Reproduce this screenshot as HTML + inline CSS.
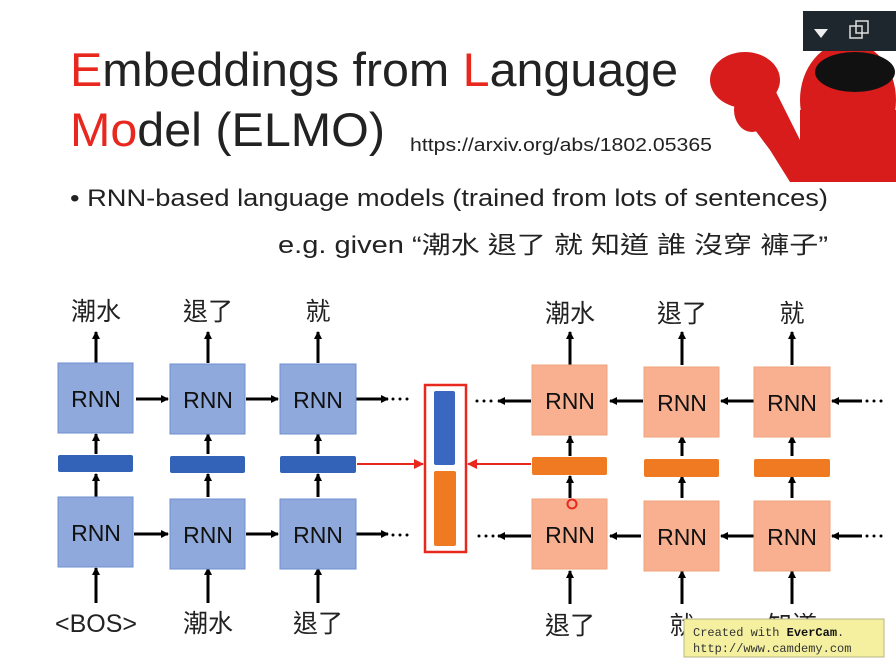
<!DOCTYPE html>
<html><head><meta charset="utf-8"><style>
body{margin:0;background:#fff;}
svg{display:block}
</style></head><body>
<svg width="896" height="672" viewBox="0 0 896 672" xmlns="http://www.w3.org/2000/svg" font-family="'Liberation Sans','Noto Sans CJK TC',sans-serif">
<defs>
<marker id="a" markerWidth="8" markerHeight="8" refX="7" refY="4" orient="auto" markerUnits="userSpaceOnUse"><path d="M0,0 L8,4 L0,8 z" fill="#000"/></marker>
<marker id="r" markerWidth="10" markerHeight="10" refX="9" refY="5" orient="auto" markerUnits="userSpaceOnUse"><path d="M0,0 L10,5 L0,10 z" fill="#e8281e"/></marker>
</defs>
<rect width="896" height="672" fill="#fff"/>
<!-- Elmo -->
<g fill="#d81c1c">
<ellipse cx="848" cy="100" rx="48" ry="58"/>
<rect x="800" y="110" width="96" height="72"/>
<ellipse cx="745" cy="80" rx="35" ry="28"/>
<path d="M720,85 L765,70 L800,140 L810,182 L790,182 L770,150 L740,110 z"/>
<ellipse cx="752" cy="110" rx="18" ry="22"/>
</g>
<ellipse cx="855" cy="72" rx="40" ry="20" fill="#111"/>
<rect x="803" y="11" width="93" height="40" fill="#1e262e"/>
<path d="M814,29 L828,29 L821,38 z" fill="#eee"/>
<rect x="850" y="26" width="12" height="12" fill="none" stroke="#ddd" stroke-width="1.5"/>
<rect x="856" y="21" width="12" height="12" fill="none" stroke="#ddd" stroke-width="1.5"/>
<!-- Title -->
<text x="70" y="86" font-size="47" fill="#222" textLength="608" lengthAdjust="spacingAndGlyphs"><tspan fill="#e8281e">E</tspan>mbeddings from <tspan fill="#e8281e">L</tspan>anguage</text>
<text x="70" y="146" font-size="47" fill="#222" textLength="315" lengthAdjust="spacingAndGlyphs"><tspan fill="#e8281e">Mo</tspan>del (ELMO)</text>
<text x="410" y="151" font-size="18" fill="#222" textLength="302" lengthAdjust="spacingAndGlyphs">https://arxiv.org/abs/1802.05365</text>
<text x="70" y="206" font-size="24" fill="#222" textLength="758" lengthAdjust="spacingAndGlyphs">• RNN-based language models (trained from lots of sentences)</text>
<text x="278" y="253" font-size="24" fill="#222" textLength="550" lengthAdjust="spacingAndGlyphs">e.g. given “潮水 退了 就 知道 誰 沒穿 褲子”</text>
<g font-size="25" fill="#222" text-anchor="middle">
<text x="96" y="320">潮水</text><text x="208" y="320">退了</text><text x="318" y="320">就</text>
<text x="96" y="632">&lt;BOS&gt;</text><text x="208" y="632">潮水</text><text x="318" y="632">退了</text>
<text x="570" y="322">潮水</text><text x="682" y="322">退了</text><text x="792" y="322">就</text>
<text x="570" y="634">退了</text><text x="682" y="634">就</text><text x="792" y="634">知道</text>
</g>
<g stroke="#000" stroke-width="3" marker-end="url(#a)">
<line x1="96" y1="363" x2="96" y2="332"/><line x1="208" y1="363" x2="208" y2="332"/><line x1="318" y1="363" x2="318" y2="332"/>
<line x1="96" y1="454" x2="96" y2="434"/><line x1="208" y1="454" x2="208" y2="434"/><line x1="318" y1="454" x2="318" y2="434"/>
<line x1="96" y1="497" x2="96" y2="474"/><line x1="208" y1="497" x2="208" y2="474"/><line x1="318" y1="497" x2="318" y2="474"/>
<line x1="96" y1="603" x2="96" y2="568"/><line x1="208" y1="603" x2="208" y2="568"/><line x1="318" y1="603" x2="318" y2="568"/>
<line x1="136" y1="399" x2="168" y2="399"/><line x1="246" y1="399" x2="278" y2="399"/><line x1="356" y1="399" x2="388" y2="399"/>
<line x1="134" y1="534" x2="168" y2="534"/><line x1="246" y1="534" x2="278" y2="534"/><line x1="356" y1="534" x2="388" y2="534"/>
<line x1="570" y1="365" x2="570" y2="332"/><line x1="682" y1="365" x2="682" y2="332"/><line x1="792" y1="365" x2="792" y2="332"/>
<line x1="570" y1="456" x2="570" y2="436"/><line x1="682" y1="456" x2="682" y2="436"/><line x1="792" y1="456" x2="792" y2="436"/>
<line x1="570" y1="498" x2="570" y2="476"/><line x1="682" y1="498" x2="682" y2="476"/><line x1="792" y1="498" x2="792" y2="476"/>
<line x1="570" y1="604" x2="570" y2="571"/><line x1="682" y1="604" x2="682" y2="571"/><line x1="792" y1="604" x2="792" y2="571"/>
<line x1="531" y1="401" x2="498" y2="401"/><line x1="643" y1="401" x2="610" y2="401"/><line x1="754" y1="401" x2="721" y2="401"/><line x1="862" y1="401" x2="832" y2="401"/>
<line x1="531" y1="536" x2="498" y2="536"/><line x1="641" y1="536" x2="610" y2="536"/><line x1="754" y1="536" x2="721" y2="536"/><line x1="862" y1="536" x2="832" y2="536"/>
</g>
<g fill="#000">
<circle cx="393" cy="399" r="1.5"/><circle cx="400" cy="399" r="1.5"/><circle cx="407" cy="399" r="1.5"/>
<circle cx="393" cy="535" r="1.5"/><circle cx="400" cy="535" r="1.5"/><circle cx="407" cy="535" r="1.5"/>
<circle cx="477" cy="401" r="1.5"/><circle cx="484" cy="401" r="1.5"/><circle cx="491" cy="401" r="1.5"/>
<circle cx="479" cy="536" r="1.5"/><circle cx="486" cy="536" r="1.5"/><circle cx="493" cy="536" r="1.5"/>
<circle cx="867" cy="401" r="1.5"/><circle cx="874" cy="401" r="1.5"/><circle cx="881" cy="401" r="1.5"/>
<circle cx="867" cy="536" r="1.5"/><circle cx="874" cy="536" r="1.5"/><circle cx="881" cy="536" r="1.5"/>
</g>
<g fill="#8fa9dc" stroke="#6f8fcf" stroke-width="1">
<rect x="58" y="363" width="75" height="70"/><rect x="170" y="364" width="75" height="70"/><rect x="280" y="364" width="76" height="70"/>
<rect x="58" y="497" width="75" height="70"/><rect x="170" y="499" width="75" height="70"/><rect x="280" y="499" width="76" height="70"/>
</g>
<g fill="#3263b8">
<rect x="58" y="455" width="75" height="17" rx="2"/><rect x="170" y="456" width="75" height="17" rx="2"/><rect x="280" y="456" width="76" height="17" rx="2"/>
</g>
<g fill="#f9b090" stroke="#f0a27e" stroke-width="1">
<rect x="532" y="365" width="75" height="70"/><rect x="644" y="367" width="75" height="70"/><rect x="754" y="367" width="76" height="70"/>
<rect x="532" y="499" width="75" height="70"/><rect x="644" y="501" width="75" height="70"/><rect x="754" y="501" width="76" height="70"/>
</g>
<g fill="#f07a22">
<rect x="532" y="457" width="75" height="18" rx="2"/><rect x="644" y="459" width="75" height="18" rx="2"/><rect x="754" y="459" width="76" height="18" rx="2"/>
</g>
<g font-size="23" fill="#111" text-anchor="middle">
<text x="96" y="407">RNN</text><text x="208" y="408">RNN</text><text x="318" y="408">RNN</text>
<text x="96" y="541">RNN</text><text x="208" y="543">RNN</text><text x="318" y="543">RNN</text>
<text x="570" y="409">RNN</text><text x="682" y="411">RNN</text><text x="792" y="411">RNN</text>
<text x="570" y="543">RNN</text><text x="682" y="545">RNN</text><text x="792" y="545">RNN</text>
</g>
<rect x="425" y="385" width="41" height="167" fill="none" stroke="#e8281e" stroke-width="2.5"/>
<rect x="434" y="391" width="21" height="74" fill="#3a68c0" rx="2"/>
<rect x="434" y="471" width="22" height="75" fill="#f07a22" rx="2"/>
<line x1="357" y1="464" x2="423" y2="464" stroke="#e8281e" stroke-width="2" marker-end="url(#r)"/>
<line x1="531" y1="464" x2="468" y2="464" stroke="#e8281e" stroke-width="2" marker-end="url(#r)"/>
<circle cx="572" cy="504" r="4.5" fill="none" stroke="#e8281e" stroke-width="2"/>
<rect x="684" y="619" width="200" height="38" fill="#f4f0a0" stroke="#b8b480" stroke-width="1"/>
<text x="693" y="636" font-size="12" fill="#333" font-family="'Liberation Mono',monospace">Created with <tspan font-weight="bold" fill="#111">EverCam</tspan>.</text>
<text x="693" y="652" font-size="12" fill="#333" font-family="'Liberation Mono',monospace">http://www.camdemy.com</text>
</svg>
</body></html>
